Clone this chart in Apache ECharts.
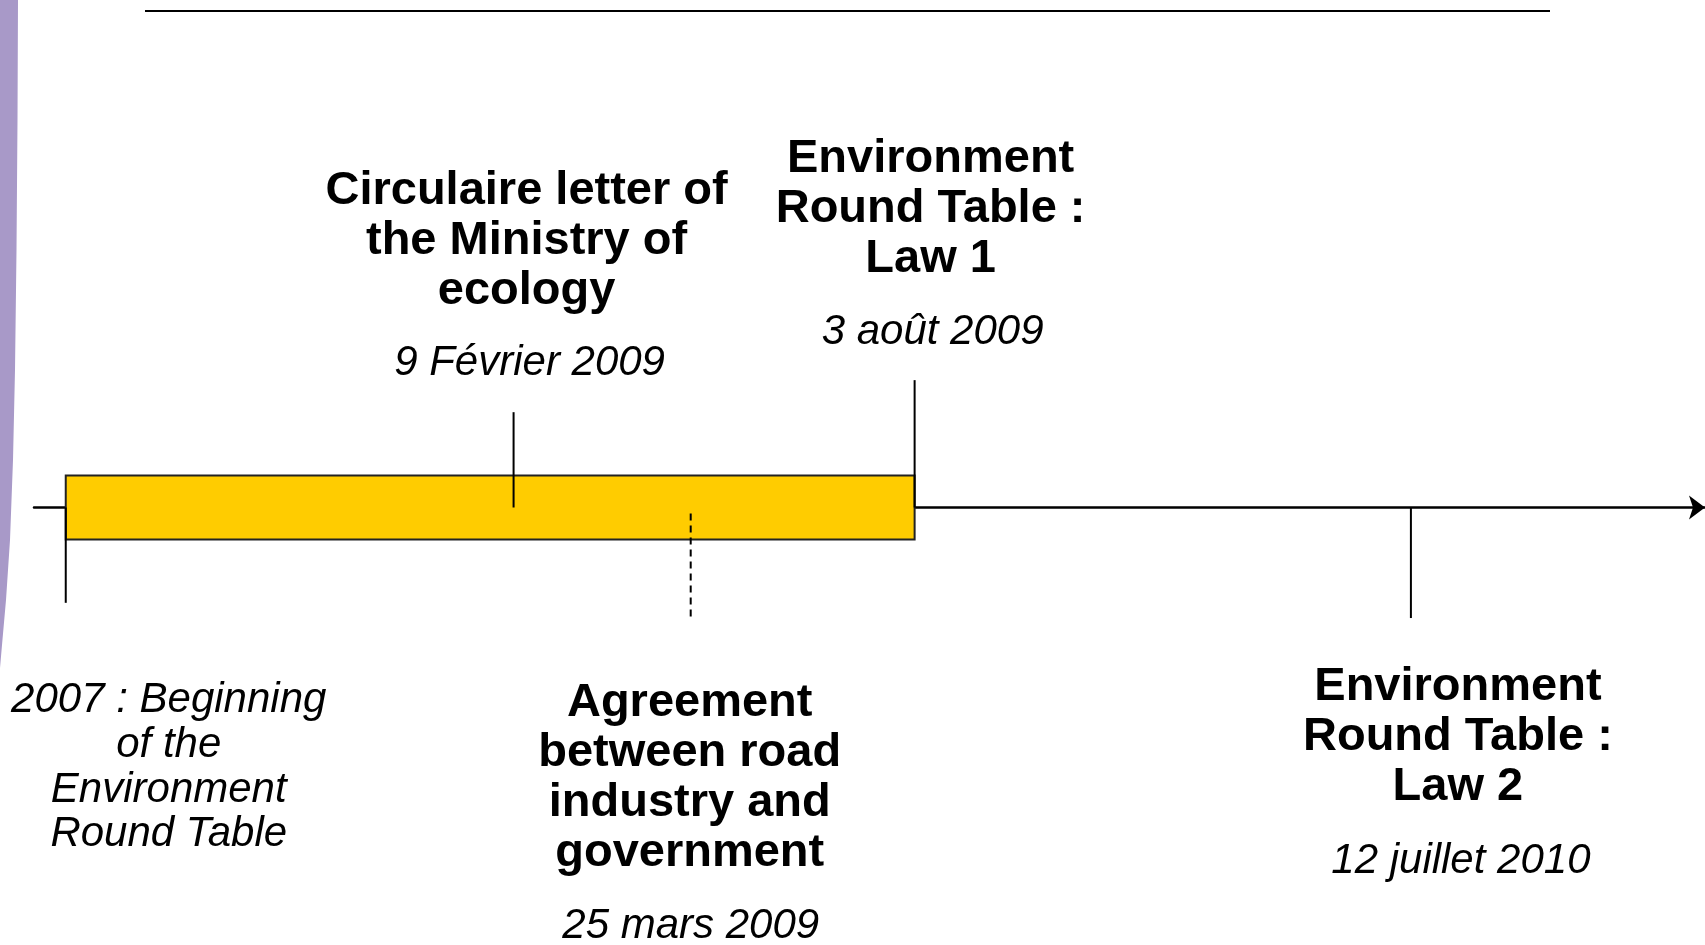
<!DOCTYPE html>
<html>
<head>
<meta charset="utf-8">
<script src="https://cdn.jsdelivr.net/npm/echarts@6/dist/echarts.min.js"></script>
<style>
html,body{margin:0;padding:0;background:#fff;}
#chart{width:1705px;height:945px;}
</style>
</head>
<body>
<div id="chart"></div>
<script>
// ---- Data ----
const eventTitles = [
  '',
  'Circulaire letter of\nthe Ministry of\necology',
  'Agreement\nbetween road\nindustry and\ngovernment',
  'Environment\nRound Table :\nLaw 1',
  'Environment\nRound Table :\nLaw 2'
];
const eventNotes = [
  '2007 : Beginning\nof the\nEnvironment\nRound Table',
  '9 Février 2009',
  '25 mars 2009',
  '3 août 2009',
  '12 juillet 2010'
];
// position of each event on the (non-linear) timeline scale, 0–100
const eventPositions = [1.9, 28.7, 39.3, 52.7, 82.4];
// tick extent from the axis (positive = above, negative = below)
const tickExtents = [-23.8, 23.8, -27.8, 31.8, -27.6];
const tickDashed = [false, false, true, false, false];
// highlighted period: from the 2007 start to Law 1
const periodStart = [1.9];
const periodEnd = [52.7];
const periodHalfHeight = [8];

// ---- Layout / styles (not data) ----
const labelLayout = [
  {title: null, note: {dx: 103, dy: 171}},
  {title: {dx: 13, dy: -341}, note: {dx: 16, dy: -166}},
  {title: {dx: -1, dy: 171}, note: {dx: 0, dy: 397}},
  {title: {dx: 16, dy: -373}, note: {dx: 18, dy: -197}},
  {title: {dx: 47, dy: 155}, note: {dx: 50, dy: 332}}
];
const FONT = '"Liberation Sans", Arial, sans-serif';

const chart = echarts.init(document.getElementById('chart'), null, {renderer: 'canvas'});

const eventData = eventPositions.map((p, i) => [p, tickExtents[i], i]);

const option = {
  animation: false,
  backgroundColor: '#ffffff',
  grid: {left: 34, right: 0, top: 107, bottom: 37, containLabel: false},
  xAxis: {
    type: 'value', min: 0, max: 100,
    axisLine: {show: true, onZero: true, symbol: ['none', 'arrow'], symbolSize: [18, 16],
      lineStyle: {color: '#000', width: 2.5}},
    axisTick: {show: false}, axisLabel: {show: false}, splitLine: {show: false}
  },
  yAxis: {
    type: 'value', min: -100, max: 100,
    axisLine: {show: false}, axisTick: {show: false}, axisLabel: {show: false}, splitLine: {show: false}
  },
  graphic: [
    {
      type: 'polygon', z: 0,
      shape: {points: [[0,0],[18,0],[17.5,120],[16.5,250],[15,370],[13,460],[10,540],[6,600],[2,645],[0,668]]},
      style: {fill: '#A899C8'}
    },
    {
      type: 'line', z: 0,
      shape: {x1: 145, y1: 11, x2: 1550, y2: 11},
      style: {stroke: '#000', lineWidth: 2}
    }
  ],
  series: [
    {
      type: 'custom', name: 'period', z: 1,
      data: periodStart.map((s, i) => [s, periodEnd[i], periodHalfHeight[i]]),
      renderItem: function (params, api) {
        const p1 = api.coord([api.value(0), api.value(2)]);
        const p2 = api.coord([api.value(1), -api.value(2)]);
        return {
          type: 'rect', z2: 1,
          shape: {x: p1[0], y: p1[1], width: p2[0] - p1[0], height: p2[1] - p1[1]},
          style: {fill: '#FFCC00', stroke: '#222', lineWidth: 2}
        };
      }
    },
    {
      type: 'custom', name: 'events', z: 5,
      data: eventData,
      renderItem: function (params, api) {
        const i = api.value(2);
        const base = api.coord([api.value(0), 0]);
        const end = api.coord([api.value(0), api.value(1)]);
        const dashed = tickDashed[i];
        const children = [{
          type: 'line',
          shape: {x1: base[0], y1: dashed ? base[1] + 6 : base[1], x2: end[0], y2: end[1]},
          style: {stroke: '#000', lineWidth: 2, lineDash: dashed ? [7, 5] : null}
        }];
        const lay = labelLayout[i];
        if (lay.title && eventTitles[i]) {
          children.push({
            type: 'text',
            style: {
              text: eventTitles[i], x: base[0] + lay.title.dx, y: base[1] + lay.title.dy,
              align: 'center', verticalAlign: 'top', lineHeight: 50,
              fontSize: 47, fontWeight: 'bold', fontFamily: FONT, fill: '#000'
            }
          });
        }
        if (lay.note && eventNotes[i]) {
          children.push({
            type: 'text',
            style: {
              text: eventNotes[i], x: base[0] + lay.note.dx, y: base[1] + lay.note.dy,
              align: 'center', verticalAlign: 'top', lineHeight: 44.6,
              fontSize: 42, fontStyle: 'italic', fontFamily: FONT, fill: '#000'
            }
          });
        }
        return {type: 'group', children: children};
      }
    }
  ]
};
chart.setOption(option);
</script>
</body>
</html>
